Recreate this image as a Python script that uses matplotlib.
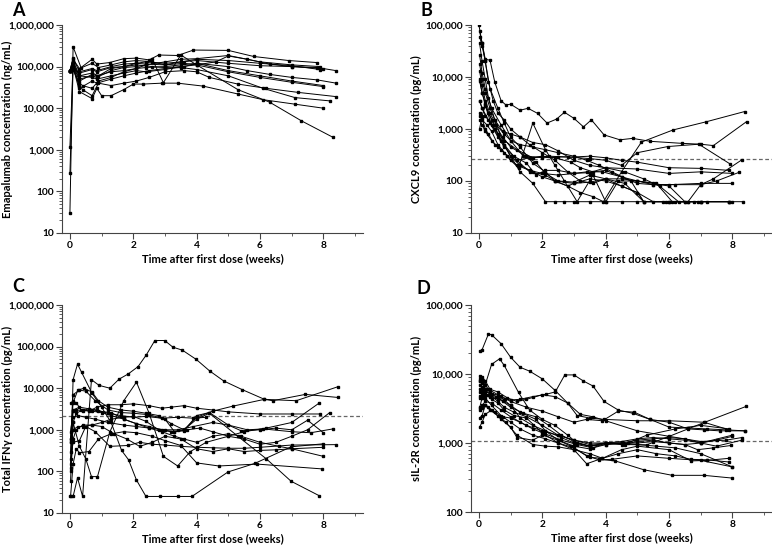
import matplotlib
matplotlib.use("Agg")
import matplotlib.pyplot as plt
from matplotlib.ticker import FixedLocator, FuncFormatter, LogLocator, NullFormatter

plt.rcParams['font.family'] = ['Lato', 'DejaVu Sans']

# ---------------- Panel A: Emapalumab (ng/mL) ----------------
A_times = [
    [0, 0.1, 0.35, 0.7, 0.85, 1.25, 1.7, 2.1, 2.5, 2.8, 3.4, 3.9, 5.0, 5.8, 6.9, 7.8],
    [0, 0.1, 0.3, 0.7, 0.9, 1.3, 1.7, 2.1, 2.6, 3.0, 3.6, 4.0, 4.6, 5.0, 5.6, 6.3, 7.0, 7.8, 8.4],
    [0, 0.1, 0.3, 0.7, 0.9, 1.3, 1.7, 2.1, 2.6, 3.0, 3.6, 4.0, 5.0, 5.6, 6.3, 7.0, 7.8, 8.4],
    [0, 0.1, 0.3, 0.4, 0.7, 0.9, 1.3, 1.7, 2.1, 2.4, 2.6, 2.95, 3.5, 4.0, 5.3, 6.3, 7.3, 8.3],
    [0, 0.1, 0.3, 0.7, 0.85, 1.0, 1.3, 1.7, 2.0, 2.3, 2.9, 3.4, 4.2, 5.3, 6.1, 7.1, 8.0],
    [0, 0.1, 0.3, 0.4, 0.7, 0.9, 1.3, 1.7, 2.1, 2.5, 3.0, 3.6, 4.0, 4.4, 5.3, 6.2, 7.2, 8.4],
    [0, 0.1, 0.3, 0.7, 0.85, 1.3, 1.7, 2.1, 2.4, 3.0, 3.5, 4.0, 5.0, 6.0, 7.0, 8.0],
    [0, 0.1, 0.3, 0.7, 0.85, 1.3, 1.7, 2.1, 2.4, 3.0, 3.5, 4.0, 5.0, 6.0, 7.0, 8.0],
    [0, 0.1, 0.3, 0.7, 0.85, 1.3, 1.7, 2.1, 2.4, 3.0, 3.5, 4.0, 5.0, 6.0, 7.0, 8.0],
    [0, 0.1, 0.3, 0.7, 0.85, 1.3, 1.7, 2.1, 2.4, 3.0, 3.5, 4.0, 5.0, 6.0, 7.0, 7.9],
    [0, 0.1, 0.3, 0.7, 0.85, 1.3, 1.7, 2.1, 2.4, 3.0, 3.5, 4.0, 5.0, 6.0, 7.0, 7.9],
    [0, 0.1, 0.3, 0.7, 0.85, 1.3, 1.7, 2.1, 2.5, 3.0, 3.5, 4.0, 5.0, 6.1, 7.1, 8.2],
]
A_values = [
    [30, 300000, 95000, 150000, 115000, 125000, 155000, 160000, 145000, 190000, 185000, 250000, 245000, 175000, 140000, 125000],
    [80000, 150000, 90000, 120000, 95000, 110000, 130000, 140000, 130000, 110000, 120000, 110000, 130000, 180000, 150000, 115000, 100000, 95000, 80000],
    [1200, 120000, 60000, 70000, 60000, 90000, 100000, 110000, 100000, 95000, 100000, 120000, 100000, 80000, 65000, 55000, 48000, 40000],
    [270, 85000, 40000, 35000, 30000, 45000, 55000, 75000, 90000, 110000, 150000, 41000, 190000, 110000, 28000, 14000, 5000, 2000],
    [80000, 100000, 25000, 17000, 30000, 20000, 20000, 28000, 38000, 38000, 40000, 40000, 34000, 22000, 16000, 12500, 10000],
    [80000, 90000, 35000, 28000, 20000, 40000, 35000, 40000, 45000, 55000, 75000, 80000, 75000, 55000, 38000, 30000, 24000, 19000],
    [80000, 140000, 60000, 55000, 50000, 60000, 70000, 80000, 75000, 85000, 100000, 110000, 75000, 55000, 42000, 33000],
    [80000, 110000, 45000, 65000, 60000, 75000, 80000, 90000, 95000, 100000, 110000, 120000, 80000, 60000, 45000, 35000],
    [80000, 90000, 70000, 85000, 75000, 95000, 100000, 120000, 130000, 120000, 130000, 140000, 120000, 105000, 100000, 90000],
    [80000, 160000, 75000, 90000, 80000, 100000, 115000, 120000, 115000, 110000, 130000, 150000, 140000, 120000, 105000, 85000],
    [80000, 120000, 50000, 60000, 55000, 80000, 95000, 100000, 110000, 130000, 150000, 155000, 185000, 130000, 110000, 100000],
    [80000, 120000, 30000, 45000, 40000, 50000, 60000, 70000, 80000, 90000, 95000, 85000, 60000, 30000, 18000, 15000],
]

# ---------------- Panel B: CXCL9 (pg/mL) ----------------
B_times = [
    [0, 0.1, 0.2, 0.35, 0.5, 0.7, 0.85, 1.0, 1.3, 1.55, 1.85, 2.15, 2.45, 2.7, 3.0, 3.3, 3.55, 3.95, 4.45, 4.85, 5.4, 6.4, 7.0, 7.4, 8.45],
    [0.02, 0.1, 0.2, 0.35, 0.6, 0.8, 1.0, 1.3, 1.7, 2.1, 2.4, 2.8, 3.2, 3.6, 3.93, 4.5, 5.13, 6.13, 7.16, 8.39],
    [0.02, 0.1, 0.3, 0.5, 0.8, 1.2, 1.7, 2.2, 2.8, 3.5, 4.0, 4.5, 5.0, 5.96, 6.94, 7.92],
    [0.02, 0.1, 0.2, 0.4, 0.6, 0.8, 1.2, 1.6, 2.1, 2.4, 3.0, 3.5, 4.0, 4.6, 5.2, 5.9, 6.6, 7.0, 7.4, 8.3],
    [0.02, 0.1, 0.25, 0.4, 0.6, 0.9, 1.2, 1.6, 2.0, 2.5, 3.0, 3.4, 3.9, 4.5, 5.0, 5.5, 6.2, 7.0, 7.5, 8.2],
    [0.02, 0.1, 0.2, 0.4, 0.7, 1.0, 1.4, 1.8, 2.1, 2.5, 3.0, 3.5, 4.0, 4.5, 5.0, 5.5, 6.0, 7.0, 8.0],
    [0.02, 0.1, 0.2, 0.3, 0.5, 0.75, 1.0, 1.5, 2.0, 2.5, 3.0, 3.5, 4.0, 4.5, 5.0, 6.0, 7.0, 7.9],
    [0.02, 0.1, 0.2, 0.35, 0.6, 0.8, 1.1, 1.5, 1.8, 2.1, 2.5, 3.0, 3.5, 4.0, 5.0, 6.0, 7.0, 8.0],
    [0.02, 0.1, 0.2, 0.4, 0.6, 0.8, 1.0, 1.25, 1.7, 2.1, 2.4, 2.7, 3.1, 3.6, 4.0, 4.4, 5.0, 5.5, 6.0, 6.5, 7.0],
    [0.02, 0.1, 0.2, 0.3, 0.5, 0.8, 1.0, 1.3, 1.7, 2.1, 2.4, 2.7, 3.0, 3.5, 4.0, 4.5, 5.0, 6.0, 7.0, 8.0, 8.35],
    [0.02, 0.1, 0.2, 0.35, 0.55, 0.8, 1.0, 1.3, 1.7, 2.1, 2.5, 3.0, 3.4, 3.8, 4.2, 4.8, 5.2, 5.8, 6.2, 6.8, 7.2, 7.9],
    [0.02, 0.1, 0.2, 0.35, 0.5, 0.75, 1.0, 1.3, 1.7, 2.1, 2.5, 3.0, 3.5, 4.0, 4.6, 5.2, 5.7, 6.3, 6.9, 7.9],
    [0.02, 0.1, 0.2, 0.3, 0.5, 0.7, 0.9, 1.2, 1.6, 2.0, 2.4, 2.9, 3.2, 3.6, 4.0, 4.5, 5.0, 5.6, 6.1, 6.6, 7.0, 7.9],
    [0.02, 0.1, 0.2, 0.4, 0.7, 1.0, 1.3, 1.7, 2.0, 2.4, 2.8, 3.0, 3.5, 4.0, 4.5, 5.0, 5.5, 6.0, 6.5],
    [0.02, 0.1, 0.2, 0.3, 0.45, 0.6, 0.8, 1.0, 1.3, 1.6, 2.0, 2.4, 2.8, 3.2, 3.6, 4.0, 4.5, 5.0, 5.2],
]
B_values = [
    [100000, 45000, 22000, 21000, 8000, 3500, 2900, 3000, 2300, 2500, 2000, 1300, 1550, 2100, 1600, 1100, 1500, 770, 620, 660, 580, 530, 510, 480, 1390],
    [75000, 45000, 20000, 6000, 2500, 1300, 700, 450, 220, 150, 100, 80, 60, 50, 40, 150, 560, 960, 1370, 2170],
    [3500, 2500, 1500, 1000, 600, 400, 280, 300, 290, 270, 250, 200, 350, 460, 510, 214],
    [9000, 5000, 3000, 1500, 800, 500, 250, 150, 130, 100, 90, 95, 110, 90, 40, 40, 40, 85, 110, 256],
    [1800, 1500, 1200, 900, 500, 300, 200, 160, 140, 130, 140, 150, 150, 120, 90, 85, 85, 85, 100, 146],
    [27000, 12000, 6000, 2500, 1200, 600, 300, 230, 140, 100, 95, 130, 110, 110, 100, 85, 85, 90, 90],
    [8500, 5000, 3000, 2000, 1200, 700, 450, 300, 280, 290, 290, 300, 280, 250, 230, 180, 175, 160],
    [3500, 2500, 1800, 1300, 700, 450, 300, 220, 130, 160, 160, 140, 145, 180, 170, 140, 150, 140],
    [1500, 1200, 900, 600, 450, 350, 250, 180, 1300, 400, 200, 100, 40, 130, 40, 100, 100, 90, 80, 40, 40],
    [45000, 20000, 9000, 4000, 1500, 500, 300, 150, 90, 40, 40, 40, 40, 40, 40, 40, 40, 40, 40, 40, 40],
    [13000, 7000, 3500, 2000, 1200, 800, 600, 500, 450, 400, 350, 300, 250, 200, 150, 100, 40, 40, 40, 40, 40, 40],
    [18000, 9000, 5000, 2500, 1500, 900, 800, 700, 550, 500, 380, 250, 200, 180, 150, 110, 80, 40, 40, 40],
    [2000, 1600, 1000, 800, 500, 400, 300, 250, 280, 300, 280, 230, 180, 150, 160, 120, 100, 90, 40, 40, 40, 40],
    [1000, 1800, 2800, 1200, 600, 300, 200, 150, 120, 100, 80, 90, 110, 100, 80, 60, 40, 40, 40],
    [60000, 40000, 20000, 8000, 3500, 2000, 1500, 1000, 700, 500, 350, 250, 150, 100, 90, 110, 80, 60, 40],
]

# ---------------- Panel C: Total IFNy (pg/mL) ----------------
C_times = [
    [0.0, 0.1, 0.24, 0.4, 0.68, 0.92, 1.26, 1.55, 1.84, 2.15, 2.41, 2.68, 2.99, 3.25, 3.55, 3.99, 4.41, 4.85, 5.43, 6.14, 6.4, 7.43, 8.45],
    [0.02, 0.1, 0.25, 0.4, 0.7, 1.0, 1.3, 1.7, 2.0, 2.4, 2.8, 3.2, 3.6, 4.0, 4.5, 5.14, 6.14, 7.14, 8.45],
    [0.02, 0.1, 0.24, 0.37, 0.7, 1.0, 1.3, 1.63, 1.85, 2.1, 2.4, 2.85, 3.4, 3.85, 4.99, 5.83, 6.98, 7.98],
    [0.02, 0.1, 0.25, 0.45, 0.7, 0.9, 1.2, 1.6, 2.0, 2.4, 2.8, 3.2, 3.6, 4.0, 4.4, 5.3, 6.2, 6.98, 7.87],
    [0.02, 0.1, 0.3, 0.5, 0.68, 0.87, 1.26, 1.7, 2.1, 2.5, 2.95, 3.4, 3.8, 4.3, 5.0, 5.5, 6.2, 7.0, 7.85],
    [0.02, 0.1, 0.2, 0.35, 0.6, 0.85, 1.2, 1.6, 2.0, 2.5, 2.9, 3.2, 3.6, 4.0, 4.5, 5.0, 6.0, 7.0, 7.9],
    [0.02, 0.1, 0.2, 0.4, 0.7, 1.0, 1.3, 1.7, 2.1, 2.5, 2.9, 3.3, 3.7, 4.1, 4.5, 5.0, 5.5, 6.0, 6.5, 7.0, 7.5, 8.2],
    [0.02, 0.1, 0.3, 0.5, 0.8, 1.2, 1.6, 2.0, 2.5, 3.0, 3.3, 3.6, 4.0, 4.4, 5.0, 5.6, 6.1, 7.0, 7.6, 8.3],
    [0.02, 0.1, 0.25, 0.5, 0.8, 1.2, 1.7, 2.1, 2.5, 3.0, 3.4, 3.9, 4.5, 5.0, 5.4, 6.0, 6.5, 7.0, 7.5, 8.0],
    [0.02, 0.1, 0.3, 0.5, 0.8, 1.26, 1.84, 2.2, 2.6, 3.0, 3.5, 4.0, 4.5, 5.0, 5.5, 6.0, 7.0, 8.4],
    [0.02, 0.1, 0.2, 0.4, 0.7, 1.0, 1.4, 1.8, 2.2, 2.6, 3.0, 3.5, 4.0, 4.5, 5.0, 5.5, 6.0, 6.5, 7.0, 8.0],
    [0.02, 0.1, 0.3, 0.6, 0.9, 1.3, 1.7, 2.1, 2.5, 2.9, 3.3, 3.6, 4.0, 4.5, 5.0, 5.4, 6.0, 6.6, 7.0, 8.0],
    [0.02, 0.1, 0.2, 0.3, 0.6, 0.9, 1.3, 1.7, 2.1, 2.6, 3.0, 3.5, 4.0, 4.7, 5.9, 7.95],
    [0.02, 0.1, 0.2, 0.4, 0.6, 0.85, 1.2, 1.6, 2.0, 2.4, 2.9, 3.4, 3.9, 4.3],
]
C_values = [
    [25, 25, 70, 25, 16000, 11700, 10000, 16500, 22000, 33000, 63000, 140000, 140000, 97000, 82000, 49000, 26000, 15000, 9300, 5400, 5000, 7100, 6000],
    [500, 1000, 1200, 1200, 1300, 1500, 1800, 2000, 2100, 1600, 1000, 900, 1000, 2000, 2800, 3700, 5400, 5000, 10800],
    [150, 16000, 38000, 24000, 7500, 3500, 1500, 320, 190, 62, 25, 25, 25, 25, 97, 155, 390, 460],
    [600, 4500, 9000, 10000, 8000, 5000, 3500, 3000, 2800, 2500, 2200, 1400, 1000, 1800, 2500, 700, 200, 58, 26],
    [60, 1500, 400, 200, 75, 75, 890, 5000, 14000, 2500, 230, 135, 300, 500, 700, 900, 1100, 1500, 4300],
    [4500, 4800, 4500, 3000, 2800, 3500, 4000, 4000, 4200, 3800, 3300, 3500, 3800, 3300, 3000, 2700, 2400, 2400, 2400],
    [120, 1500, 2500, 3000, 2800, 2600, 2200, 1800, 1400, 1200, 1000, 900, 1000, 1100, 900, 700, 600, 450, 500, 700, 1000, 2600],
    [500, 7000, 9000, 8500, 5000, 3000, 2600, 2500, 2300, 1800, 900, 950, 2200, 2600, 1300, 1000, 1050, 900, 850, 1050],
    [600, 2000, 2200, 2000, 1800, 1500, 1300, 1200, 1100, 1000, 1000, 1200, 1500, 1300, 950, 1000, 1100, 1000, 1700, 850],
    [200, 500, 550, 1200, 900, 400, 420, 500, 450, 430, 400, 380, 370, 360, 360, 380, 430, 440],
    [100, 600, 1000, 1300, 1300, 1200, 800, 600, 400, 500, 700, 600, 350, 300, 350, 300, 320, 330, 350, 380],
    [300, 3000, 3500, 3200, 2800, 2600, 1800, 1400, 1100, 900, 700, 600, 500, 700, 800, 700, 500, 400, 350, 230],
    [25, 150, 350, 280, 300, 600, 800, 900, 850, 700, 550, 420, 160, 135, 150, 115],
    [900, 2800, 3000, 2900, 3200, 3000, 2500, 2200, 2000, 2100, 1900, 2000, 1900, 2000],
]

# ---------------- Panel D: sIL-2R (pg/mL) ----------------
D_times = [
    [0.02, 0.1, 0.3, 0.4, 0.7, 1.0, 1.3, 1.6, 2.0, 2.4, 2.8, 3.1, 3.5, 3.95, 5.0, 6.0, 7.1, 7.9],
    [0.02, 0.1, 0.2, 0.35, 0.6, 0.82, 1.0, 1.3, 1.7, 2.13, 2.41, 2.71, 3.0, 3.3, 3.6, 3.95, 4.4, 4.85, 5.4, 6.0, 6.6, 7.1, 7.6, 8.4],
    [0.02, 0.1, 0.2, 0.4, 0.65, 0.8, 1.25, 1.6, 2.0, 2.4, 2.8, 3.1, 3.5, 4.0, 4.5, 5.0, 5.5, 6.0, 6.5, 7.0, 8.0],
    [0.02, 0.1, 0.2, 0.35, 0.6, 0.8, 1.1, 1.5, 2.0, 2.5, 3.0, 3.5, 4.0, 4.6, 5.29, 5.97, 7.13, 8.44],
    [0.02, 0.1, 0.2, 0.4, 0.7, 1.0, 1.3, 1.7, 2.1, 2.5, 3.0, 3.4, 3.8, 4.3, 5.2, 6.1, 7.1, 8.0],
    [0.02, 0.1, 0.2, 0.35, 0.6, 0.85, 1.2, 1.7, 2.1, 2.5, 3.0, 3.5, 3.9, 4.4, 5.0, 5.6, 6.2, 6.7, 7.2, 7.9],
    [0.02, 0.1, 0.2, 0.4, 0.7, 1.0, 1.2, 1.7, 2.0, 2.5, 2.9, 3.5, 3.9, 4.5, 5.0, 6.0, 6.7, 7.2, 7.9],
    [0.02, 0.1, 0.2, 0.3, 0.6, 0.8, 1.0, 1.3, 1.8, 2.1, 2.5, 3.0, 3.5, 4.0, 4.5, 5.0, 5.6, 6.2, 7.0, 8.0],
    [0.02, 0.1, 0.2, 0.35, 0.55, 0.75, 1.0, 1.4, 1.8, 2.2, 2.6, 3.0, 3.5, 4.0, 4.5, 5.0, 5.5, 6.0, 6.5, 7.0, 7.5, 8.3],
    [0.02, 0.1, 0.2, 0.4, 0.7, 1.0, 1.5, 2.0, 2.5, 3.0, 3.5, 4.0, 4.5, 5.0, 5.5, 6.0, 6.5, 6.9, 7.4, 7.95],
    [0.02, 0.1, 0.2, 0.4, 0.7, 1.0, 1.5, 2.0, 2.5, 3.0, 3.4, 3.9, 4.4, 4.9, 5.4, 6.0, 6.6, 7.2, 7.8, 8.4],
    [0.02, 0.1, 0.2, 0.35, 0.6, 0.9, 1.2, 1.5, 2.0, 2.4, 2.8, 3.2, 3.6, 4.0, 5.0, 6.0, 7.0, 7.8, 8.3],
    [0.02, 0.1, 0.25, 0.4, 0.6, 0.8, 1.1, 1.5, 2.0, 2.5, 3.0, 3.4, 3.8, 4.2, 5.0, 6.0, 7.0, 8.0],
    [0.02, 0.1, 0.2, 0.3, 0.5, 0.75, 1.0, 1.3, 1.7, 2.1, 2.6, 3.1, 3.6, 4.0, 4.7, 5.3, 6.2, 7.0, 7.9],
    [0.02, 0.1, 0.2, 0.35, 0.6, 1.0, 1.3, 1.7, 2.1, 2.6, 3.0, 3.5, 4.0, 4.5, 5.0, 5.5, 6.0, 6.5, 7.0, 7.5, 8.0],
]
D_values = [
    [21500, 22500, 38000, 37000, 27500, 17500, 12500, 11000, 8500, 5800, 3800, 2500, 2300, 2200, 2100, 2100, 2000, 1550],
    [3200, 4500, 5000, 4600, 4400, 4340, 4200, 4300, 4700, 5100, 5500, 9700, 9700, 7900, 6700, 4000, 3000, 2700, 2200, 2000, 1600, 1550, 1500, 1500],
    [4500, 5000, 7000, 13800, 16600, 13300, 5400, 3000, 2200, 1800, 1300, 1000, 900, 950, 1000, 1100, 1150, 1200, 1150, 1000, 1300],
    [8000, 7500, 6000, 5000, 4000, 3300, 2800, 2400, 1800, 1300, 1100, 950, 1000, 950, 940, 1230, 2000, 3400],
    [6000, 5500, 4500, 3500, 2500, 2000, 1600, 1300, 1150, 1000, 800, 500, 580, 550, 410, 340, 340, 310],
    [2300, 2500, 3500, 3000, 2500, 2000, 1300, 950, 900, 880, 800, 700, 600, 700, 800, 700, 650, 580, 570, 530],
    [1700, 2000, 2600, 3000, 2200, 1700, 1200, 1100, 1300, 1100, 900, 620, 600, 800, 900, 800, 550, 560, 600],
    [9500, 8500, 7000, 6000, 5000, 4200, 3500, 2800, 2200, 1500, 1100, 900, 820, 1000, 1000, 950, 900, 850, 700, 450],
    [5500, 6000, 5200, 4800, 4600, 4000, 3300, 2700, 2400, 1800, 1300, 1050, 900, 1000, 1050, 1150, 1200, 1150, 1100, 1000, 900, 1100],
    [3300, 3500, 4000, 3800, 3000, 2400, 1800, 1500, 1300, 1100, 1000, 1000, 950, 1050, 1100, 1000, 950, 800, 850, 920],
    [7000, 6500, 5500, 5200, 4800, 4000, 3300, 2900, 2400, 2000, 2200, 2100, 2900, 2800, 2200, 1700, 1650, 1600, 1550, 1500],
    [8500, 9000, 8000, 6000, 5500, 4500, 4000, 4300, 5000, 4700, 3800, 2600, 2400, 2100, 1500, 1250, 1050, 1100, 1200],
    [4800, 4500, 5000, 4300, 3800, 3000, 2500, 2300, 1400, 1000, 850, 650, 570, 580, 650, 600, 560, 450],
    [3000, 3200, 3600, 3300, 2800, 2400, 2300, 2000, 1600, 1350, 1100, 950, 850, 950, 1000, 1300, 1600, 1800, 1600],
    [7800, 8000, 6000, 5500, 4500, 3500, 2300, 1800, 1500, 1200, 1000, 900, 1000, 1000, 1000, 1050, 1000, 950, 1000, 1100, 1250],
]

panel_letters = ["A", "B", "C", "D"]
y_labels = ["Emapalumab concentration (ng/mL)", "CXCL9 concentration (pg/mL)",
            "Total IFN\u03b3 concentration (pg/mL)", "sIL-2R concentration (pg/mL)"]
x_label = "Time after first dose (weeks)"
y_ranges = [(10, 1e6), (10, 1e5), (10, 1e6), (100, 1e5)]
ref_lines = [None, 265, 2100, 1080]

W, H = 772, 546
fig = plt.figure(figsize=(W / 100, H / 100), dpi=100)

boxes = [(62, 25, 363, 233), (471, 25, 772, 233), (62, 305, 363, 513), (471, 305, 772, 512)]
letter_pos = [(12, 2), (420, 2), (12, 278), (417, 280)]
ylabel_off = [55, 55, 55, 55]  # px left of axis to label centre
datasets = [(A_times, A_values), (B_times, B_values), (C_times, C_values), (D_times, D_values)]

fmt = FuncFormatter(lambda v, p: f"{int(round(v)):,}")
fs_tick = 7.3
fs_lab = 8
for i, (box, (tt, vv)) in enumerate(zip(boxes, datasets)):
    x0, y0, x1, y1 = box
    wpx, hpx = x1 - x0, y1 - y0
    ax = fig.add_axes([x0 / W, 1 - y1 / H, wpx / W, hpx / H])
    for t, v in zip(tt, vv):
        ax.plot(t, v, color='black', lw=0.7, marker='s', ms=1.7, mfc='black', mec='black')
    if ref_lines[i] is not None:
        ax.axhline(ref_lines[i], color='#666666', lw=0.9, ls=(0, (3, 2)), zorder=0)
    ax.set_yscale('log')
    ax.set_ylim(*y_ranges[i])
    ax.set_xlim(-0.25, 9.25)
    ax.xaxis.set_major_locator(FixedLocator([0, 2, 4, 6, 8]))
    ax.xaxis.set_minor_locator(FixedLocator([1, 3, 5, 7, 9]))
    ax.yaxis.set_major_formatter(fmt)
    ax.yaxis.set_minor_locator(LogLocator(base=10, subs=range(2, 10), numticks=20))
    ax.yaxis.set_minor_formatter(NullFormatter())
    for s in ['top', 'right']:
        ax.spines[s].set_visible(False)
    for s in ['left', 'bottom']:
        ax.spines[s].set_color('#444444')
        ax.spines[s].set_linewidth(0.8)
    ax.tick_params(axis='both', which='major', length=4, width=0.8, color='#444444',
                   labelsize=fs_tick, pad=1.5)
    ax.tick_params(axis='both', which='minor', length=2, width=0.6, color='#444444')
    for lab in ax.get_xticklabels() + ax.get_yticklabels():
        lab.set_fontweight('bold')
    ax.set_xlabel(x_label, fontsize=fs_lab, fontweight='bold')
    ax.set_ylabel(y_labels[i], fontsize=fs_lab, fontweight='bold')
    ax.xaxis.set_label_coords(0.5, -26 / hpx)
    ax.yaxis.set_label_coords(-ylabel_off[i] / wpx, 0.5)
    ax.xaxis.label.set_va('center')
    ax.yaxis.label.set_va('center')
    lx, ly = letter_pos[i]
    fig.text(lx / W, 1 - ly / H, panel_letters[i], fontsize=13, fontweight='bold',
             va='top', ha='left')

fig.savefig("out.png", dpi=100)
